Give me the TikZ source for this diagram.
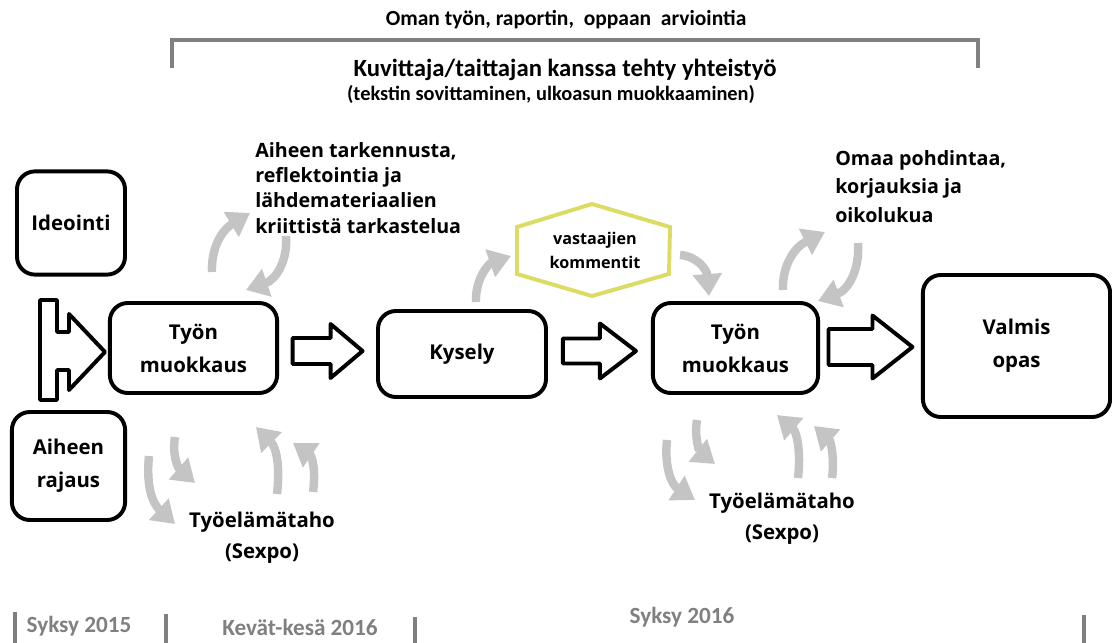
\documentclass[tikz,border=0pt]{standalone}
\usepackage{fontspec}
\setmainfont{Open Sans}
\newfontfamily\calibrifont{Carlito}
\usetikzlibrary{arrows.meta, calc}

\definecolor{cyclegray}{HTML}{C4C4C4}
\definecolor{rulegray}{HTML}{808080}
\definecolor{hexyellow}{HTML}{DCDC64}

\begin{document}
\begin{tikzpicture}[
        x=0.025cm, y=-0.025cm,
        stage/.style={rectangle, draw=black, line width=2.8pt, rounded corners=0.45cm, align=center, inner sep=0pt, font=\bfseries\fontsize{14.5}{23.5}\selectfont},
        note/.style={align=left, inner sep=0pt, font=\bfseries\fontsize{14}{18}\selectfont},
        partner/.style={align=center, inner sep=0pt, font=\bfseries\fontsize{14.5}{22}\selectfont},
        headline/.style={inner sep=0pt, font=\calibrifont\bfseries\fontsize{15.3}{18}\selectfont},
        period/.style={inner sep=0pt, text=rulegray, font=\calibrifont\bfseries\fontsize{16.5}{19}\selectfont},
        rule/.style={draw=rulegray, line width=2.8pt},
        blockarrow/.style={draw=black, fill=white, line width=2.8pt, line join=round},
        hexline/.style={draw=hexyellow, line width=2.8pt},
        cyclearrow/.style={draw=cyclegray, line width=6pt, -{Triangle[length=0.55cm, width=0.7cm]}},
        pics/fatarrow/.style n args={4}{code={
            \draw[blockarrow] (-#1/2,-#2) -- ({#1/2-#4},-#2) -- ({#1/2-#4},-#3) -- (#1/2,0)
                -- ({#1/2-#4},#3) -- ({#1/2-#4},#2) -- (-#1/2,#2) -- cycle;
        }},
    ]
        \fill[white] (0,0) rectangle (1112,643);
        \useasboundingbox (0,0) rectangle (1112,643);

        % top: evaluation and illustrator cooperation
        \node[headline] (arvio) at (566,20) {Oman työn, raportin,\ \ oppaan\ \ arviointia};
        \draw[rule] (172,68) -- (172,40) -- (978,40) -- (978,68);
        \node[headline, font=\calibrifont\bfseries\fontsize{17.6}{20}\selectfont] (kuvit) at (565,70) {Kuvittaja/taittajan kanssa tehty yhteistyö};
        \node[headline, font=\calibrifont\bfseries\fontsize{14.5}{17}\selectfont] (sovit) at (551,94) {(tekstin sovittaminen, ulkoasun muokkaaminen)};

        % stages
        \node[stage, minimum width=2.7cm, minimum height=2.58cm] (ideo) at (71,223) {Ideointi};
        \node[stage, minimum width=2.83cm, minimum height=2.7cm] (rajaus) at (68.5,466) {Aiheen\\rajaus};
        \node[stage, minimum width=4.18cm, minimum height=2.25cm] (muok1) at (193.5,348) {Työn\\muokkaus};
        \node[stage, minimum width=4.2cm, minimum height=2.15cm] (kysely) at (462,354) {Kysely};
        \node[stage, minimum width=4.13cm, minimum height=2.25cm] (muok2) at (735.5,348) {Työn\\muokkaus};
        \node[stage, minimum width=4.68cm, minimum height=3.55cm] (valmis) at (1016.5,346) {Valmis\\opas};

        % joined arrow from ideointi and rajaus
        \draw[blockarrow] (40,300) -- (57,300) -- (57,332) -- (69,332) -- (69,314) -- (105,352)
            -- (69,390) -- (69,370) -- (57,370) -- (57,400) -- (40,400) -- cycle;

        \pic at ($(muok1.east)!0.5!(kysely.west)$) {fatarrow={70}{13}{27}{32}};
        \pic at ($(kysely.east)!0.5!(muok2.west)$) {fatarrow={73}{12.5}{27.5}{36}};
        \pic at ($(muok2.east)!0.5!(valmis.west)$) {fatarrow={84}{18}{31.5}{40}};

        % comments of respondents
        \node[align=center, inner sep=0pt, font=\bfseries\fontsize{11.5}{17}\selectfont] (komm) at (595,250) {vastaajien\\kommentit};
        \draw[hexline, shift={(komm.center)}] (-3,-46) -- (75,-23) -- (74,24) -- (-3,46) -- (-78,24) -- (-78,-23) -- cycle;

        % side notes
        \node[note, anchor=north west] (refl) at (255,142) {Aiheen tarkennusta,\\reflektointia ja\\lähdemateriaalien\\kriittistä tarkastelua};
        \node[note, anchor=north west, font=\bfseries\fontsize{14}{20.3}\selectfont] (pohd) at (835,150) {Omaa pohdintaa,\\korjauksia ja\\oikolukua};
        \node[partner] (taho1) at (262,538) {Työelämätaho\\(Sexpo)};
        \node[partner] (taho2) at (782,519) {Työelämätaho\\(Sexpo)};

        % grey cycle arrows
        \draw[cyclearrow] (212,272) .. controls (211,248) and (222,230) .. (250,213);
        \draw[cyclearrow] (286,236) .. controls (288,262) and (275,280) .. (246,290);
        \draw[cyclearrow] (476,302) .. controls (475,280) and (488,264) .. (511,256);
        \draw[cyclearrow] (680,255) .. controls (697,256) and (707,270) .. (709,296);
        \draw[cyclearrow] (783,290) .. controls (782,265) and (795,247) .. (825,232);
        \draw[cyclearrow] (858,243) .. controls (860,270) and (848,290) .. (818,301);
        \draw[cyclearrow] (149,456) .. controls (146,485) and (152,503) .. (175,524);
        \draw[cyclearrow] (175,437) .. controls (172,455) and (178,468) .. (195,483);
        \draw[cyclearrow] (277,494) .. controls (280,468) and (277,448) .. (256,427);
        \draw[cyclearrow] (313,492) .. controls (316,470) and (312,456) .. (293,443);
        \draw[cyclearrow] (667,440) .. controls (664,468) and (672,485) .. (695,500);
        \draw[cyclearrow] (697,420) .. controls (694,438) and (700,452) .. (715,464);
        \draw[cyclearrow] (798,478) .. controls (801,452) and (797,432) .. (777,415);
        \draw[cyclearrow] (832,478) .. controls (835,457) and (830,440) .. (814,426);

        % time line
        \draw[rule] (15,612) -- (15,650);
        \draw[rule] (166,614) -- (166,650);
        \draw[rule] (415,617) -- (415,650);
        \draw[rule] (1084,615) -- (1084,650);
        \node[period] (syksy1) at (79,626) {Syksy 2015};
        \node[period] (kevat) at (300,627) {Kevät-kesä 2016};
        \node[period] (syksy2) at (682,617) {Syksy 2016};
    \end{tikzpicture}
\end{document}
